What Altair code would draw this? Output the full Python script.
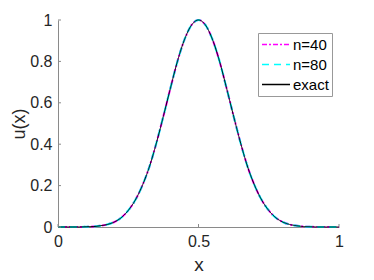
import altair as alt
import pandas as pd

# ---- data ----
x_vals = [0.0, 0.025, 0.05, 0.075, 0.1, 0.125, 0.15, 0.175, 0.2, 0.225,
          0.25, 0.275, 0.3, 0.325, 0.35, 0.375, 0.4, 0.425, 0.45, 0.475,
          0.5, 0.525, 0.55, 0.575, 0.6, 0.625, 0.65, 0.675, 0.7, 0.725,
          0.75, 0.775, 0.8, 0.825, 0.85, 0.875, 0.9, 0.925, 0.95, 0.975, 1.0]
u_n40 = [0.0, 0.0, 0.0, 0.0, 0.001, 0.002, 0.006, 0.012, 0.024, 0.045,
         0.08, 0.13, 0.2, 0.29, 0.405, 0.535, 0.67, 0.8, 0.905, 0.975,
         1.0, 0.975, 0.905, 0.8, 0.67, 0.535, 0.405, 0.29, 0.2, 0.13,
         0.08, 0.045, 0.024, 0.012, 0.006, 0.002, 0.001, 0.0, 0.0, 0.0, 0.0]
u_n80 = [0.0, 0.0, 0.0, 0.0, 0.001, 0.002, 0.006, 0.012, 0.024, 0.045,
         0.08, 0.13, 0.2, 0.29, 0.405, 0.535, 0.67, 0.8, 0.905, 0.975,
         1.0, 0.975, 0.905, 0.8, 0.67, 0.535, 0.405, 0.29, 0.2, 0.13,
         0.08, 0.045, 0.024, 0.012, 0.006, 0.002, 0.001, 0.0, 0.0, 0.0, 0.0]
u_exact = [0.0, 0.0, 0.0, 0.0, 0.001, 0.002, 0.006, 0.012, 0.024, 0.045,
           0.08, 0.13, 0.2, 0.29, 0.405, 0.535, 0.67, 0.8, 0.905, 0.975,
           1.0, 0.975, 0.905, 0.8, 0.67, 0.535, 0.405, 0.29, 0.2, 0.13,
           0.08, 0.045, 0.024, 0.012, 0.006, 0.002, 0.001, 0.0, 0.0, 0.0, 0.0]

series_names = ["n=40", "n=80", "exact"]
series_colors = ["#ff00ff", "#00ffff", "#000000"]
series_dashes = [[5, 2, 2, 2], [7, 5], [1, 0]]
series_widths = [2, 2, 1]
x_ticks = [0, 0.5, 1]
y_ticks = [0, 0.2, 0.4, 0.6, 0.8, 1]

rows = []
for name, vals in zip(series_names, [u_n40, u_n80, u_exact]):
    for xv, uv in zip(x_vals, vals):
        rows.append({"x": xv, "u": uv, "series": name})
df = pd.DataFrame(rows)

FONT = "Liberation Sans"
TXT = "#262626"
AX = "#8a8a8a"

xscale = alt.Scale(domain=[0, 1], nice=False, zero=False)
yscale = alt.Scale(domain=[0, 1], nice=False, zero=False)

legend = alt.Legend(
    title=None, orient="none", legendX=200, legendY=13,
    symbolType="stroke", symbolSize=784, symbolStrokeWidth=1.5,
    labelFontSize=15, labelFont=FONT, labelColor="#000000",
    strokeColor="#999999", fillColor="white", padding=3,
    rowPadding=3, labelOffset=2, clipHeight=17,
)

xaxis = alt.Axis(values=x_ticks, format="~g", title="x", ticks=False, grid=False,
                 domainColor=AX, labelFontSize=16, labelFont=FONT, labelColor=TXT,
                 labelPadding=6, labelFlush=False, labelOverlap=False,
                 titleFont=FONT, titleFontSize=19, titleFontWeight="normal",
                 titleColor=TXT, titlePadding=6)
yaxis = alt.Axis(values=y_ticks, format="~g", title="u(x)", ticks=False, grid=False,
                 domainColor=AX, labelFontSize=16, labelFont=FONT, labelColor=TXT,
                 labelPadding=6, labelFlush=False, labelOverlap=False,
                 titleFont=FONT, titleFontSize=18, titleFontWeight="normal",
                 titleColor=TXT, titlePadding=1)

layers = []
for name, w in zip(series_names, series_widths):
    layers.append(
        alt.Chart(df).transform_filter(alt.datum.series == name)
        .mark_line(interpolate="monotone", strokeWidth=w)
        .encode(
            x=alt.X("x:Q", scale=xscale, axis=xaxis),
            y=alt.Y("u:Q", scale=yscale, axis=yaxis),
            color=alt.Color("series:N", scale=alt.Scale(domain=series_names, range=series_colors), legend=legend),
            strokeDash=alt.StrokeDash("series:N", scale=alt.Scale(domain=series_names, range=series_dashes), legend=legend),
        )
    )

xt = alt.Chart(pd.DataFrame({"x": x_ticks})).mark_rule(color=AX, strokeWidth=1).encode(
    x=alt.X("x:Q", scale=xscale), y=alt.value(207), y2=alt.value(204))
yt = alt.Chart(pd.DataFrame({"u": y_ticks})).mark_rule(color=AX, strokeWidth=1).encode(
    y=alt.Y("u:Q", scale=yscale), x=alt.value(0), x2=alt.value(3))

chart = alt.layer(*layers, xt, yt).properties(
    width=281, height=207,
    padding={"left": 50, "top": 12, "right": 25, "bottom": 52},
    autosize=alt.AutoSizeParams(type="none"),
).configure_view(strokeWidth=0)

chart.save("out.html", embed_options={"renderer": "svg", "actions": False})
